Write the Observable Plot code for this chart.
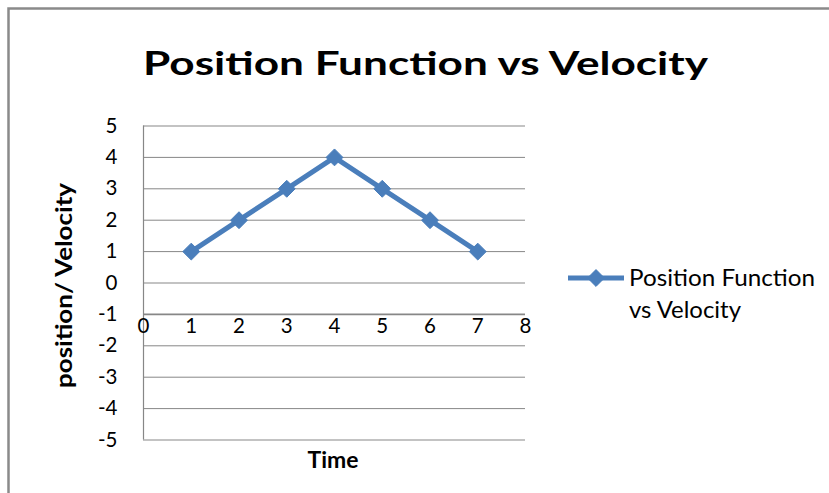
<!DOCTYPE html>
<html>
<head>
<meta charset="utf-8">
<script src="https://cdn.jsdelivr.net/npm/d3@7"></script>
<script src="https://cdn.jsdelivr.net/npm/@observablehq/plot@0.6"></script>
<style>
  html, body { margin: 0; padding: 0; background: #ffffff; }
  #chart { width: 829px; height: 493px; }
</style>
</head>
<body>
<div id="chart"></div>
<script>
// ---- data ----
const times = [1, 2, 3, 4, 5, 6, 7];
const values = [1, 2, 3, 4, 3, 2, 1];
const yTicks = [-5, -4, -3, -2, -1, 0, 1, 2, 3, 4, 5];
const xTicks = [0, 1, 2, 3, 4, 5, 6, 7, 8];
const seriesName = "Position Function vs Velocity";
const titleText = "Position Function vs Velocity";
const xLabel = "Time";
const yLabel = "position/ Velocity";
const crossAt = -1; // horizontal axis crosses at y = -1

const data = times.map((t, i) => ({ t, v: values[i] }));
const blue = "#4a7ebb";
const grid = "#878787";
const font = "Lato, 'Open Sans', sans-serif";

const plot = Plot.plot({
  width: 829,
  height: 493,
  marginTop: 125.5,
  marginBottom: 53.5,
  marginLeft: 143,
  marginRight: 304,
  x: { domain: [0, 8] },
  y: { domain: [-5, 5] },
  style: { fontFamily: font, background: "#ffffff", color: "#000" },
  marks: [
    Plot.ruleY(yTicks.filter(d => d !== crossAt), { stroke: grid, strokeWidth: 1, strokeOpacity: 1 }),
    Plot.ruleY([crossAt], { stroke: grid, strokeWidth: 1.6, strokeOpacity: 1 }),
    Plot.ruleX([0], { stroke: grid, strokeWidth: 1.2, strokeOpacity: 1 }),
    Plot.axisY({ ticks: yTicks, tickSize: 0, tickPadding: 26, fontSize: 20.5, tickFormat: d => `${d}`, label: null }),
    Plot.axisX({ ticks: [], label: null, tickSize: 0 }),
    Plot.text(xTicks, { x: d => d, y: () => crossAt, text: d => `${d}`, lineAnchor: "top", dy: 4, fontSize: 20.5, fill: "#000" }),
    Plot.line(data, { x: "t", y: "v", stroke: blue, strokeWidth: 5 }),
    Plot.dot(data, { x: "t", y: "v", symbol: "diamond2", r: 7.6, fill: blue, stroke: blue, strokeWidth: 1 })
  ]
});

document.getElementById("chart").appendChild(plot);

const svg = d3.select(plot);

// outer chart border (left + top)
svg.append("path")
  .attr("d", "M8.5,493 L8.5,8.5 L829,8.5")
  .attr("fill", "none")
  .attr("stroke", "#8a8a8a")
  .attr("stroke-width", 2.5);

// title
svg.append("text")
  .attr("x", 425.5)
  .attr("y", 75)
  .attr("text-anchor", "middle")
  .attr("font-family", font)
  .attr("font-weight", "bold")
  .attr("font-size", 33)
  .attr("textLength", 565)
  .attr("lengthAdjust", "spacingAndGlyphs")
  .attr("fill", "#000")
  .text(titleText);

// x axis title
svg.append("text")
  .attr("x", 333)
  .attr("y", 468)
  .attr("text-anchor", "middle")
  .attr("font-family", font)
  .attr("font-weight", "bold")
  .attr("font-size", 23)
  .attr("textLength", 51)
  .attr("lengthAdjust", "spacingAndGlyphs")
  .attr("fill", "#000")
  .text(xLabel);

// y axis title
svg.append("text")
  .attr("transform", "translate(72,285.5) rotate(-90)")
  .attr("text-anchor", "middle")
  .attr("font-family", font)
  .attr("font-weight", "bold")
  .attr("font-size", 23)
  .attr("textLength", 205)
  .attr("lengthAdjust", "spacingAndGlyphs")
  .attr("fill", "#000")
  .text(yLabel);

// legend
const lg = svg.append("g");
lg.append("line")
  .attr("x1", 568).attr("x2", 624).attr("y1", 278).attr("y2", 278)
  .attr("stroke", blue).attr("stroke-width", 5);
lg.append("path")
  .attr("transform", "translate(596,278)")
  .attr("d", d3.symbol(d3.symbolDiamond2, Math.PI * 7.6 * 7.6)())
  .attr("fill", blue).attr("stroke", blue);
const words = seriesName.split(" ");
const line1 = words.slice(0, 2).join(" ");
const line2 = words.slice(2).join(" ");
lg.append("text")
  .attr("x", 629).attr("y", 286)
  .attr("text-anchor", "start")
  .attr("font-family", font).attr("font-size", 23).attr("fill", "#000")
  .attr("textLength", 186).attr("lengthAdjust", "spacingAndGlyphs")
  .text(line1);
lg.append("text")
  .attr("x", 629).attr("y", 318)
  .attr("text-anchor", "start")
  .attr("font-family", font).attr("font-size", 23).attr("fill", "#000")
  .attr("textLength", 112).attr("lengthAdjust", "spacingAndGlyphs")
  .text(line2);
</script>
</body>
</html>
